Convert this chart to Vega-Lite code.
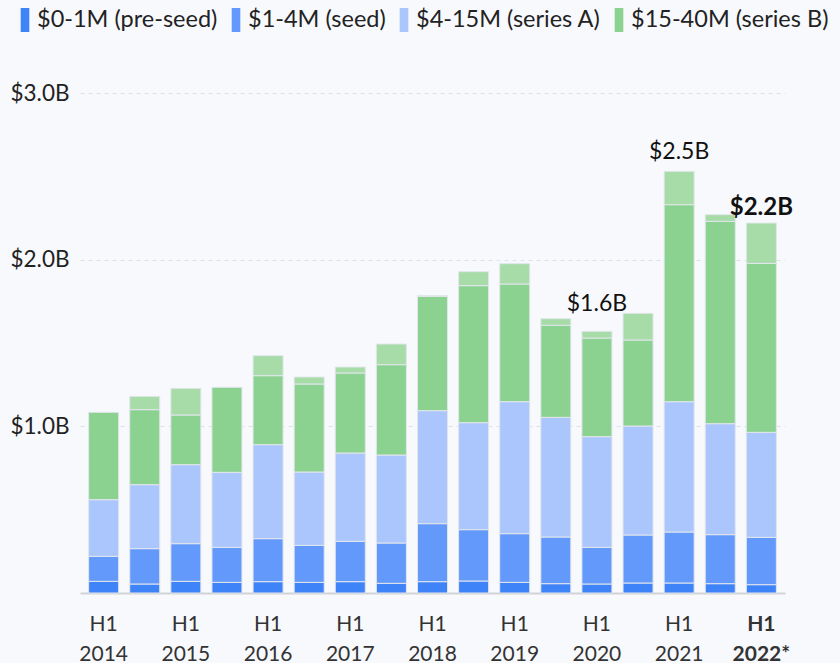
{
  "$schema": "https://vega.github.io/schema/vega-lite/v6.json",
  "width": 705,
  "height": 500,
  "autosize": {"type": "none"},
  "padding": {"left": 80, "top": 93, "right": 55, "bottom": 70},
  "background": "#f8f9fd",
  "config": {"view": {"stroke": null}, "font": "Lato"},
  "datasets": {
    "segs": [
      {"period": "H1 2014", "stage": "$0-1M (pre-seed)", "rank": 1, "value": 0.07},
      {"period": "H1 2014", "stage": "$1-4M (seed)", "rank": 2, "value": 0.15},
      {"period": "H1 2014", "stage": "$4-15M (series A)", "rank": 3, "value": 0.34},
      {"period": "H1 2014", "stage": "$15-40M (series B)", "rank": 4, "value": 0.524},
      {"period": "H2 2014", "stage": "$0-1M (pre-seed)", "rank": 1, "value": 0.054},
      {"period": "H2 2014", "stage": "$1-4M (seed)", "rank": 2, "value": 0.212},
      {"period": "H2 2014", "stage": "$4-15M (series A)", "rank": 3, "value": 0.384},
      {"period": "H2 2014", "stage": "$15-40M (series B)", "rank": 4, "value": 0.45},
      {"period": "H2 2014", "stage": "$40M+ (series C+)", "rank": 5, "value": 0.08},
      {"period": "H1 2015", "stage": "$0-1M (pre-seed)", "rank": 1, "value": 0.07},
      {"period": "H1 2015", "stage": "$1-4M (seed)", "rank": 2, "value": 0.226},
      {"period": "H1 2015", "stage": "$4-15M (series A)", "rank": 3, "value": 0.474},
      {"period": "H1 2015", "stage": "$15-40M (series B)", "rank": 4, "value": 0.298},
      {"period": "H1 2015", "stage": "$40M+ (series C+)", "rank": 5, "value": 0.16},
      {"period": "H2 2015", "stage": "$0-1M (pre-seed)", "rank": 1, "value": 0.064},
      {"period": "H2 2015", "stage": "$1-4M (seed)", "rank": 2, "value": 0.21},
      {"period": "H2 2015", "stage": "$4-15M (series A)", "rank": 3, "value": 0.45},
      {"period": "H2 2015", "stage": "$15-40M (series B)", "rank": 4, "value": 0.51},
      {"period": "H1 2016", "stage": "$0-1M (pre-seed)", "rank": 1, "value": 0.068},
      {"period": "H1 2016", "stage": "$1-4M (seed)", "rank": 2, "value": 0.258},
      {"period": "H1 2016", "stage": "$4-15M (series A)", "rank": 3, "value": 0.564},
      {"period": "H1 2016", "stage": "$15-40M (series B)", "rank": 4, "value": 0.414},
      {"period": "H1 2016", "stage": "$40M+ (series C+)", "rank": 5, "value": 0.12},
      {"period": "H2 2016", "stage": "$0-1M (pre-seed)", "rank": 1, "value": 0.064},
      {"period": "H2 2016", "stage": "$1-4M (seed)", "rank": 2, "value": 0.222},
      {"period": "H2 2016", "stage": "$4-15M (series A)", "rank": 3, "value": 0.44},
      {"period": "H2 2016", "stage": "$15-40M (series B)", "rank": 4, "value": 0.528},
      {"period": "H2 2016", "stage": "$40M+ (series C+)", "rank": 5, "value": 0.042},
      {"period": "H1 2017", "stage": "$0-1M (pre-seed)", "rank": 1, "value": 0.068},
      {"period": "H1 2017", "stage": "$1-4M (seed)", "rank": 2, "value": 0.242},
      {"period": "H1 2017", "stage": "$4-15M (series A)", "rank": 3, "value": 0.53},
      {"period": "H1 2017", "stage": "$15-40M (series B)", "rank": 4, "value": 0.48},
      {"period": "H1 2017", "stage": "$40M+ (series C+)", "rank": 5, "value": 0.036},
      {"period": "H2 2017", "stage": "$0-1M (pre-seed)", "rank": 1, "value": 0.058},
      {"period": "H2 2017", "stage": "$1-4M (seed)", "rank": 2, "value": 0.242},
      {"period": "H2 2017", "stage": "$4-15M (series A)", "rank": 3, "value": 0.528},
      {"period": "H2 2017", "stage": "$15-40M (series B)", "rank": 4, "value": 0.542},
      {"period": "H2 2017", "stage": "$40M+ (series C+)", "rank": 5, "value": 0.124},
      {"period": "H1 2018", "stage": "$0-1M (pre-seed)", "rank": 1, "value": 0.068},
      {"period": "H1 2018", "stage": "$1-4M (seed)", "rank": 2, "value": 0.348},
      {"period": "H1 2018", "stage": "$4-15M (series A)", "rank": 3, "value": 0.678},
      {"period": "H1 2018", "stage": "$15-40M (series B)", "rank": 4, "value": 0.686},
      {"period": "H1 2018", "stage": "$40M+ (series C+)", "rank": 5, "value": 0.004},
      {"period": "H2 2018", "stage": "$0-1M (pre-seed)", "rank": 1, "value": 0.072},
      {"period": "H2 2018", "stage": "$1-4M (seed)", "rank": 2, "value": 0.308},
      {"period": "H2 2018", "stage": "$4-15M (series A)", "rank": 3, "value": 0.642},
      {"period": "H2 2018", "stage": "$15-40M (series B)", "rank": 4, "value": 0.822},
      {"period": "H2 2018", "stage": "$40M+ (series C+)", "rank": 5, "value": 0.084},
      {"period": "H1 2019", "stage": "$0-1M (pre-seed)", "rank": 1, "value": 0.064},
      {"period": "H1 2019", "stage": "$1-4M (seed)", "rank": 2, "value": 0.292},
      {"period": "H1 2019", "stage": "$4-15M (series A)", "rank": 3, "value": 0.792},
      {"period": "H1 2019", "stage": "$15-40M (series B)", "rank": 4, "value": 0.706},
      {"period": "H1 2019", "stage": "$40M+ (series C+)", "rank": 5, "value": 0.122},
      {"period": "H2 2019", "stage": "$0-1M (pre-seed)", "rank": 1, "value": 0.056},
      {"period": "H2 2019", "stage": "$1-4M (seed)", "rank": 2, "value": 0.28},
      {"period": "H2 2019", "stage": "$4-15M (series A)", "rank": 3, "value": 0.718},
      {"period": "H2 2019", "stage": "$15-40M (series B)", "rank": 4, "value": 0.552},
      {"period": "H2 2019", "stage": "$40M+ (series C+)", "rank": 5, "value": 0.04},
      {"period": "H1 2020", "stage": "$0-1M (pre-seed)", "rank": 1, "value": 0.054},
      {"period": "H1 2020", "stage": "$1-4M (seed)", "rank": 2, "value": 0.22},
      {"period": "H1 2020", "stage": "$4-15M (series A)", "rank": 3, "value": 0.664},
      {"period": "H1 2020", "stage": "$15-40M (series B)", "rank": 4, "value": 0.592},
      {"period": "H1 2020", "stage": "$40M+ (series C+)", "rank": 5, "value": 0.04},
      {"period": "H2 2020", "stage": "$0-1M (pre-seed)", "rank": 1, "value": 0.06},
      {"period": "H2 2020", "stage": "$1-4M (seed)", "rank": 2, "value": 0.288},
      {"period": "H2 2020", "stage": "$4-15M (series A)", "rank": 3, "value": 0.654},
      {"period": "H2 2020", "stage": "$15-40M (series B)", "rank": 4, "value": 0.516},
      {"period": "H2 2020", "stage": "$40M+ (series C+)", "rank": 5, "value": 0.16},
      {"period": "H1 2021", "stage": "$0-1M (pre-seed)", "rank": 1, "value": 0.06},
      {"period": "H1 2021", "stage": "$1-4M (seed)", "rank": 2, "value": 0.306},
      {"period": "H1 2021", "stage": "$4-15M (series A)", "rank": 3, "value": 0.782},
      {"period": "H1 2021", "stage": "$15-40M (series B)", "rank": 4, "value": 1.182},
      {"period": "H1 2021", "stage": "$40M+ (series C+)", "rank": 5, "value": 0.2},
      {"period": "H2 2021", "stage": "$0-1M (pre-seed)", "rank": 1, "value": 0.056},
      {"period": "H2 2021", "stage": "$1-4M (seed)", "rank": 2, "value": 0.294},
      {"period": "H2 2021", "stage": "$4-15M (series A)", "rank": 3, "value": 0.666},
      {"period": "H2 2021", "stage": "$15-40M (series B)", "rank": 4, "value": 1.214},
      {"period": "H2 2021", "stage": "$40M+ (series C+)", "rank": 5, "value": 0.04},
      {"period": "H1 2022", "stage": "$0-1M (pre-seed)", "rank": 1, "value": 0.05},
      {"period": "H1 2022", "stage": "$1-4M (seed)", "rank": 2, "value": 0.284},
      {"period": "H1 2022", "stage": "$4-15M (series A)", "rank": 3, "value": 0.63},
      {"period": "H1 2022", "stage": "$15-40M (series B)", "rank": 4, "value": 1.014},
      {"period": "H1 2022", "stage": "$40M+ (series C+)", "rank": 5, "value": 0.242}
    ],
    "tots": [
      {"period": "H1 2020", "total": 1.57, "label": "$1.6B"},
      {"period": "H1 2021", "total": 2.53, "label": "$2.5B"},
      {"period": "H1 2022", "total": 2.22, "label": "$2.2B"}
    ]
  },
  "encoding": {
    "x": {
      "field": "period",
      "type": "ordinal",
      "scale": {
        "domain": ["H1 2014", "H2 2014", "H1 2015", "H2 2015", "H1 2016", "H2 2016", "H1 2017", "H2 2017", "H1 2018", "H2 2018", "H1 2019", "H2 2019", "H1 2020", "H2 2020", "H1 2021", "H2 2021", "H1 2022"],
        "paddingInner": 0.27,
        "paddingOuter": 0.21
      },
      "axis": {
        "title": null,
        "domain": true,
        "domainColor": "#cfd3d8",
        "domainWidth": 2,
        "ticks": false,
        "labelAngle": 0,
        "labelFontSize": 21,
        "labelColor": "#333333",
        "labelLineHeight": 30,
        "labelPadding": 20,
        "labelBaseline": "top",
        "labelOverlap": false,
        "labelBound": false,
        "labelExpr": "datum.value == 'H1 2022' ? ['H1', '2022*'] : (indexof(datum.value, 'H1') == 0 ? split(datum.value, ' ') : '')",
        "labelFontWeight": {"condition": {"test": "datum.value == 'H1 2022'", "value": "bold"}, "value": "normal"}
      }
    }
  },
  "layer": [
    {
      "data": {"name": "segs"},
      "mark": {"type": "bar", "stroke": "#e2e6ec", "strokeWidth": 1},
      "encoding": {
        "y": {
          "field": "value",
          "type": "quantitative",
          "stack": "zero",
          "scale": {"domain": [0, 3], "nice": false},
          "axis": {
            "title": null,
            "values": [1, 2, 3],
            "grid": true,
            "gridDash": [4, 4],
            "gridColor": "#dde1e8",
            "domain": false,
            "ticks": false,
            "tickSize": 0,
            "labelAlign": "left",
            "labelPadding": 70,
            "labelFontSize": 22.5,
            "labelColor": "#222222",
            "labelExpr": "'$' + format(datum.value, '.1f') + 'B'"
          }
        },
        "order": {"field": "rank", "type": "quantitative", "sort": "ascending"},
        "color": {
          "field": "stage",
          "type": "nominal",
          "scale": {
            "domain": ["$0-1M (pre-seed)", "$1-4M (seed)", "$4-15M (series A)", "$15-40M (series B)", "$40M+ (series C+)"],
            "range": ["#3e83f8", "#6299fb", "#aac6fd", "#8bd290", "#a7dca9"]
          },
          "legend": {
            "values": ["$0-1M (pre-seed)", "$1-4M (seed)", "$4-15M (series A)", "$15-40M (series B)"],
            "title": null,
            "orient": "none",
            "direction": "horizontal",
            "legendX": -67,
            "legendY": -85,
            "labelFontSize": 23.5,
            "labelLimit": 400,
            "labelColor": "#222222",
            "labelOffset": 0,
            "columnPadding": 6,
            "symbolType": "M-0.36,-1H0.36V1H-0.36Z",
            "symbolSize": 576,
            "symbolStrokeWidth": 0
          }
        }
      }
    },
    {
      "data": {"name": "tots"},
      "transform": [{"filter": "datum.period == 'H1 2020'"}],
      "mark": {"type": "text", "baseline": "bottom", "dy": -15, "fontSize": 23, "color": "#111111"},
      "encoding": {
        "y": {"field": "total", "type": "quantitative"},
        "text": {"field": "label"}
      }
    },
    {
      "data": {"name": "tots"},
      "transform": [{"filter": "datum.period == 'H1 2021'"}],
      "mark": {"type": "text", "baseline": "bottom", "dy": -7, "fontSize": 23, "color": "#111111"},
      "encoding": {
        "y": {"field": "total", "type": "quantitative"},
        "text": {"field": "label"}
      }
    },
    {
      "data": {"name": "tots"},
      "transform": [{"filter": "datum.period == 'H1 2022'"}],
      "mark": {"type": "text", "baseline": "bottom", "dy": -3, "fontSize": 24, "fontWeight": "bold", "color": "#111111"},
      "encoding": {
        "y": {"field": "total", "type": "quantitative"},
        "text": {"field": "label"}
      }
    }
  ]
}
